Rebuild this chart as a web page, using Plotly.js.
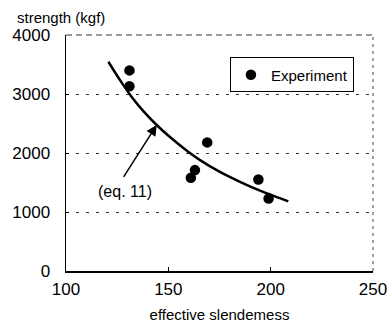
<!DOCTYPE html>
<html>
<head>
<meta charset="utf-8">
<script src="https://cdn.plot.ly/plotly-3.0.1.min.js"></script>
<style>html,body{margin:0;padding:0;background:#fff;}#chart{width:392px;height:324px;}</style>
</head>
<body>
<div id="chart"></div>
<script>
// Experimental points
const expSlenderness = [131, 131, 169, 163, 161, 194, 199];
const expStrength    = [3400, 3130, 2180, 1710, 1580, 1550, 1230];

// Curve (eq. 11)
const curveSlenderness = [120.7, 126.4, 132.1, 137.8, 144.3, 150.8, 158.1, 165.5, 175.2, 185.0, 194.8, 204.5, 208.6];
const curveStrength    = [3547, 3235, 2950, 2710, 2475, 2270, 2065, 1880, 1680, 1512, 1362, 1235, 1180];

const xTicks = [100, 150, 200, 250];
const yTicks = [0, 1000, 2000, 3000, 4000];

const FONT = 'Liberation Sans, Arial, Helvetica, sans-serif';

const traces = [
  {
    x: curveSlenderness, y: curveStrength,
    mode: 'lines', type: 'scatter',
    line: {color: '#000', width: 2.5, shape: 'spline', smoothing: 1},
    showlegend: false, hoverinfo: 'skip'
  },
  {
    x: expSlenderness, y: expStrength,
    mode: 'markers', type: 'scatter', name: 'Experiment',
    marker: {color: '#000', size: 10.5, symbol: 'circle'}
  }
];

const layout = {
  width: 392, height: 324,
  margin: {l: 66, r: 19, t: 35, b: 53},
  paper_bgcolor: '#fff', plot_bgcolor: '#fff',
  font: {family: FONT, color: '#000', size: 16},
  showlegend: true,
  legend: {
    x: 0.534, y: 0.905, xanchor: 'left', yanchor: 'top',
    bgcolor: '#fff', bordercolor: '#000', borderwidth: 1,
    font: {family: FONT, size: 15, color: '#000'}
  },
  xaxis: {
    range: [100, 250], tickvals: xTicks, ticktext: xTicks.map(String),
    showgrid: false, zeroline: false,
    showline: true, linecolor: '#000', linewidth: 1.5,
    ticks: 'inside', ticklen: 4, tickcolor: '#000',
    tickfont: {family: FONT, size: 17},
    ticklabelstandoff: 2,
    title: {text: 'effective slendemess', font: {family: FONT, size: 15}, standoff: 11}
  },
  yaxis: {
    range: [0, 4000], tickvals: yTicks, ticktext: yTicks.map(String),
    showgrid: true, gridcolor: '#333', gridwidth: 1, griddash: '3px,7px',
    zeroline: false,
    showline: true, linecolor: '#000', linewidth: 1.5,
    ticks: 'inside', ticklen: 3, tickcolor: '#000',
    tickfont: {family: FONT, size: 17},
    ticklabelstandoff: 11
  },
  shapes: [
    {type: 'line', xref: 'paper', yref: 'paper', x0: 1, x1: 1, y0: 0, y1: 1,
     line: {color: '#444', width: 1, dash: '3px,4px'}},
    {type: 'line', xref: 'paper', yref: 'paper', x0: 0, x1: 1, y0: 1, y1: 1,
     line: {color: '#333', width: 1, dash: '6px,4px'}}
  ],
  annotations: [
    {xref: 'paper', yref: 'paper', x: -0.165, y: 1.076, xanchor: 'left', yanchor: 'middle',
     text: 'strength (kgf)', showarrow: false, font: {family: FONT, size: 15}},
    {x: 128.8, y: 1344, xref: 'x', yref: 'y', text: '(eq. 11)', showarrow: false,
     font: {family: FONT, size: 16}},
    {x: 144.3, y: 2475, xref: 'x', yref: 'y', ax: 127.7, ay: 1571, axref: 'x', ayref: 'y',
     text: '', showarrow: true, arrowhead: 2, arrowsize: 1.4, arrowwidth: 1.5, arrowcolor: '#000'}
  ]
};

Plotly.newPlot('chart', traces, layout, {displayModeBar: false, staticPlot: true});
</script>
</body>
</html>
